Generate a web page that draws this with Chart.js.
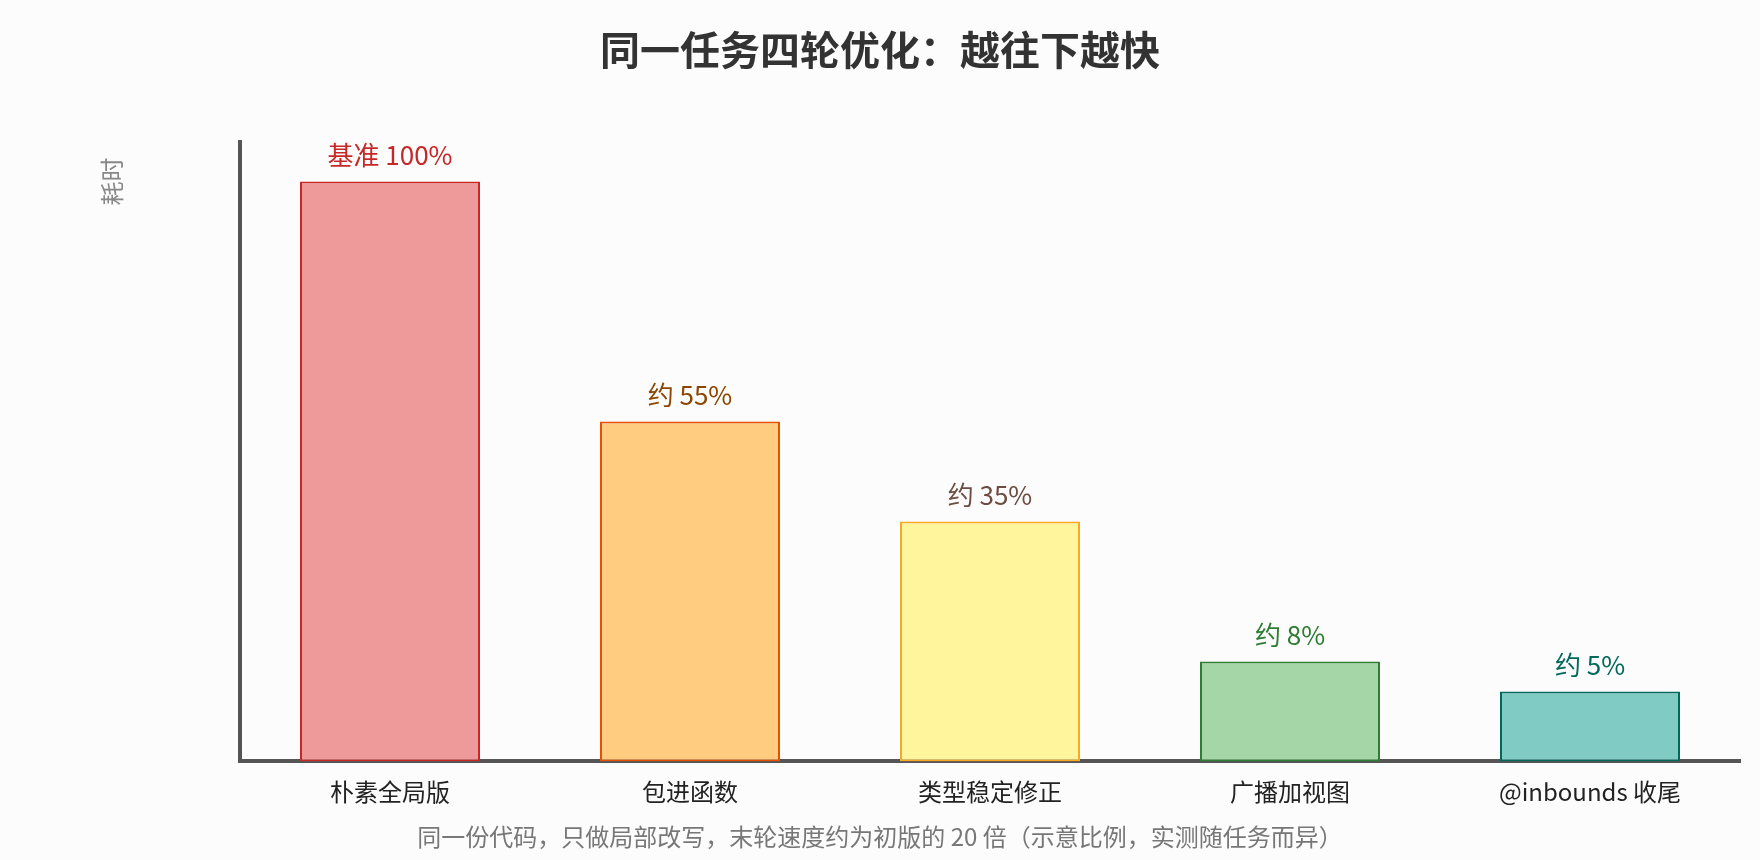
<!DOCTYPE html>
<html lang="zh-CN">

<head>
  <meta charset="UTF-8">
  <script src="https://cdn.jsdelivr.net/npm/chart.js"></script>
  <title>同一任务四轮优化</title>
  <style>
    html, body {
      margin: 0;
      padding: 0;
      background: #fcfcfc;
    }

    #wrap {
      width: 1760px;
      height: 860px;
    }
  </style>
</head>

<body>
  <div id="wrap">
    <canvas id="myChart" width="1760" height="860"></canvas>
  </div>
  <script>
    // 各轮名称
    const categories = ['朴素全局版', '包进函数', '类型稳定修正', '广播加视图', '@inbounds 收尾'];
    // 示意柱高（图上没有刻度，按画出来的高度读）
    const barHeights = [580, 340, 240, 100, 70];
    const axisMax = 620;
    // 柱顶文字
    const barLabels = ['基准 100%', '约 55%', '约 35%', '约 8%', '约 5%'];

    const fillColors = ['#ef9a9a', '#ffcc80', '#fff59d', '#a5d6a7', '#80cbc4'];
    const lineColors = ['#c62828', '#e65100', '#f9a825', '#2e7d32', '#00695c'];
    const textColors = ['#c62828', '#8c4600', '#6d4c41', '#2e7d32', '#00695c'];

    const FONT = '"Noto Sans CJK SC", "Noto Sans", sans-serif';

    // 柱顶标注
    const barLabelPlugin = {
      id: 'barLabels',
      afterDatasetsDraw(chart) {
        const ctx = chart.ctx;
        const meta = chart.getDatasetMeta(0);
        ctx.save();
        ctx.font = '26px ' + FONT;
        ctx.textAlign = 'center';
        ctx.textBaseline = 'middle';
        meta.data.forEach(function (bar, i) {
          ctx.fillStyle = textColors[i];
          ctx.fillText(barLabels[i], bar.x, bar.y - 26);
        });
        ctx.restore();
      }
    };

    // 纵轴“耗时”放在上方
    const yTitlePlugin = {
      id: 'yTitle',
      afterDraw(chart) {
        const ctx = chart.ctx;
        const area = chart.chartArea;
        ctx.save();
        ctx.translate(area.left - 128, area.top + 40);
        ctx.rotate(-Math.PI / 2);
        ctx.font = '24px ' + FONT;
        ctx.fillStyle = '#888';
        ctx.textAlign = 'center';
        ctx.textBaseline = 'middle';
        ctx.fillText('耗时', 0, 0);
        ctx.restore();
      }
    };

    new Chart(document.getElementById('myChart'), {
      type: 'bar',
      data: {
        labels: categories,
        datasets: [{
          data: barHeights,
          backgroundColor: fillColors,
          borderColor: lineColors,
          borderWidth: 2,
          borderSkipped: false,
          barPercentage: 0.6,
          categoryPercentage: 1.0
        }]
      },
      options: {
        responsive: false,
        animation: false,
        layout: {
          padding: { left: 20, right: 20, top: 0, bottom: 0 }
        },
        plugins: {
          legend: { display: false },
          tooltip: { enabled: false },
          title: {
            display: true,
            text: '同一任务四轮优化：越往下越快',
            color: '#333',
            font: { family: FONT, size: 40, weight: 'bold' },
            padding: { top: 26, bottom: 67.5 }
          },
          subtitle: {
            display: true,
            position: 'bottom',
            text: '同一份代码，只做局部改写，末轮速度约为初版的 20 倍（示意比例，实测随任务而异）',
            color: '#777',
            font: { family: FONT, size: 24 },
            padding: { top: 0, bottom: 9 }
          }
        },
        scales: {
          x: {
            grid: { display: false, drawTicks: false },
            border: { display: true, color: '#555', width: 4 },
            ticks: {
              color: '#222',
              font: { family: FONT, size: 24 },
              padding: 16
            }
          },
          y: {
            min: 0,
            max: axisMax,
            grid: { display: false, drawTicks: false },
            border: { display: true, color: '#555', width: 4 },
            ticks: { display: false },
            afterFit(scale) {
              scale.width = 220;
            }
          }
        }
      },
      plugins: [barLabelPlugin, yTitlePlugin]
    });
  </script>
</body>

</html>
